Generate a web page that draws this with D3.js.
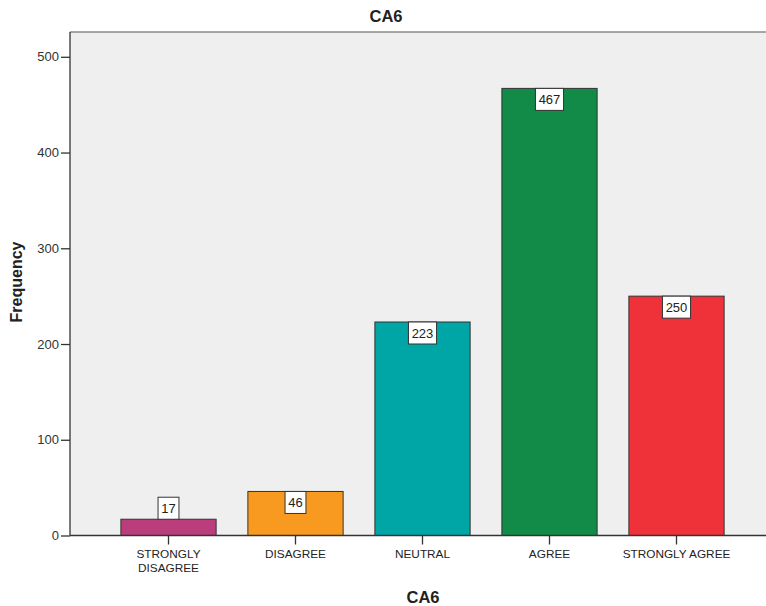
<!DOCTYPE html>
<html><head><meta charset="utf-8">
<script src="https://cdn.jsdelivr.net/npm/d3@7"></script>
<style>body{margin:0;background:#fff;}svg{display:block;font-family:"Liberation Sans",Arial,sans-serif;}</style>
</head><body>
<svg id="c" width="766" height="606"></svg>
<script>
const categories = ["STRONGLY DISAGREE","DISAGREE","NEUTRAL","AGREE","STRONGLY AGREE"];
const categoryLines = [["STRONGLY","DISAGREE"],["DISAGREE"],["NEUTRAL"],["AGREE"],["STRONGLY AGREE"]];
const frequencies = [17,46,223,467,250];
const colors = ["#B93E7B","#F89A1F","#00A5A5","#118B47","#EF3239"];
const yTicks = [0,100,200,300,400,500];

const svg = d3.select("#c");
const plot = {left:70, right:766, top:32, bottom:535.5};

const y = d3.scaleLinear().domain([0,500]).range([plot.bottom, 56.8]);
const x = d3.scaleBand().domain(categories).range([105,740]).paddingInner(0.25).paddingOuter(0.125);

// plot background
svg.append("rect").attr("x",plot.left).attr("y",plot.top)
  .attr("width",plot.right-plot.left).attr("height",plot.bottom-plot.top)
  .attr("fill","#EFEFEF");
svg.append("line").attr("x1",plot.left).attr("x2",plot.right).attr("y1",plot.top).attr("y2",plot.top)
  .attr("stroke","#8a8a8a").attr("stroke-width",1.5);

// bars
svg.selectAll("rect.bar").data(frequencies).enter().append("rect").attr("class","bar")
  .attr("x",(d,i)=>x(categories[i])).attr("width",x.bandwidth())
  .attr("y",d=>y(d)).attr("height",d=>y(0)-y(d))
  .attr("fill",(d,i)=>colors[i]).attr("stroke","#333").attr("stroke-width",1);

// y axis
const yAxis = d3.axisLeft(y).tickValues(yTicks).tickSize(9).tickPadding(2);
const gy = svg.append("g").attr("transform",`translate(${plot.left},0)`).call(yAxis);
gy.select(".domain").attr("d",`M0,${plot.top}V${plot.bottom}`).attr("stroke","#333").attr("stroke-width",1.3);
gy.selectAll(".tick line").attr("stroke","#333").attr("stroke-width",1.3);
gy.selectAll("text").attr("font-size",13).attr("fill","#333").attr("font-family","Liberation Sans, Arial, sans-serif");

// x axis
const xAxis = d3.axisBottom(x).tickSize(9).tickFormat("");
const gx = svg.append("g").attr("transform",`translate(0,${plot.bottom})`).call(xAxis);
gx.select(".domain").attr("d",`M${plot.left},0H${plot.right}`).attr("stroke","#333").attr("stroke-width",1.3);
gx.selectAll(".tick line").attr("stroke","#333").attr("stroke-width",1.3);
gx.selectAll(".tick").each(function(d,i){
  const t = d3.select(this).append("text").attr("fill","#222").attr("font-size",11.8)
    .attr("text-anchor","middle").attr("font-family","Liberation Sans, Arial, sans-serif");
  categoryLines[i].forEach((ln,j)=>{
    t.append("tspan").attr("x",0).attr("y",22.6+j*13.4).text(ln);
  });
});

// value labels
const boxH = 22;
frequencies.forEach((v,i)=>{
  const cx = x(categories[i]) + x.bandwidth()/2;
  const txt = String(v);
  const w = txt.length*7.2 + 6.5;
  const barH = y(0)-y(v);
  const top = barH > boxH ? y(v) : y(v)-boxH;
  svg.append("rect").attr("x",cx-w/2).attr("y",top).attr("width",w).attr("height",boxH)
    .attr("fill","#fff").attr("stroke","#333").attr("stroke-width",1);
  svg.append("text").attr("x",cx).attr("y",top+boxH/2+4.6).attr("text-anchor","middle")
    .attr("font-size",13).attr("fill","#222").text(txt);
});

// titles
svg.append("text").attr("x",386).attr("y",22).attr("text-anchor","middle")
  .attr("font-size",16.5).attr("font-weight","bold").attr("fill","#222").text("CA6");
svg.append("text").attr("x",423).attr("y",603).attr("text-anchor","middle")
  .attr("font-size",16.5).attr("font-weight","bold").attr("fill","#222").text("CA6");
svg.append("text").attr("transform","translate(22,282) rotate(-90)").attr("text-anchor","middle")
  .attr("font-size",16).attr("font-weight","bold").attr("fill","#222").text("Frequency");
</script>
</body></html>
